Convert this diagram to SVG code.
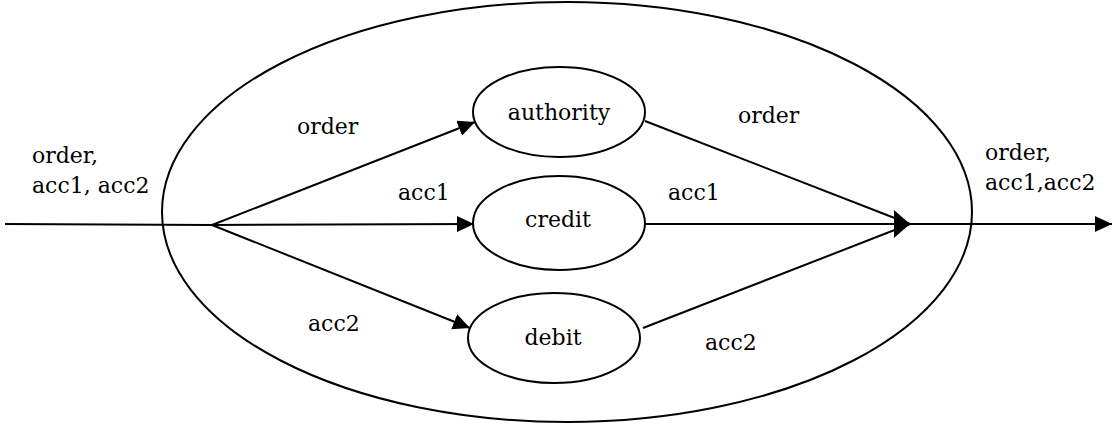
<svg xmlns="http://www.w3.org/2000/svg" width="1114" height="426" viewBox="0 0 1114 426">
  <style>
    .shape { fill: none; stroke: #000; stroke-width: 2; }
    .wire { fill: none; stroke: #000; stroke-width: 2; }
    .lbl { font-family: "DejaVu Serif", "Liberation Serif", serif; font-size: 22px; fill: #000; }
    .mid { text-anchor: middle; }
  </style>
  <defs>
    <marker id="arrow" markerUnits="userSpaceOnUse" markerWidth="18" markerHeight="16" refX="17" refY="8" orient="auto">
      <path d="M0,0 L17,8 L0,16 Z" fill="#000"/>
    </marker>
    <marker id="bigArrow" markerUnits="userSpaceOnUse" markerWidth="18" markerHeight="28" refX="16" refY="14" orient="auto">
      <path d="M0,0 L16,14 L0,28 Z" fill="#000"/>
    </marker>
  </defs>

  <!-- enclosing process boundary -->
  <g id="boundary">
    <ellipse class="shape" cx="567" cy="212" rx="405" ry="210"/>
  </g>

  <g id="authority">
    <ellipse class="shape" cx="559" cy="112" rx="86" ry="45"/>
    <text class="lbl mid" x="559" y="120">authority</text>
  </g>
  <g id="credit">
    <ellipse class="shape" cx="559" cy="223" rx="86" ry="47"/>
    <text class="lbl mid" x="558" y="227">credit</text>
  </g>
  <g id="debit">
    <ellipse class="shape" cx="554" cy="338" rx="86" ry="45"/>
    <text class="lbl mid" x="553" y="345">debit</text>
  </g>

  <g id="connectors">
    <path class="wire" d="M5,224 L212,225"/>
    <path class="wire" d="M212,225 L475,122" marker-end="url(#arrow)"/>
    <path class="wire" d="M212,225 L474,224" marker-end="url(#arrow)"/>
    <path class="wire" d="M212,225 L470,328" marker-end="url(#arrow)"/>
    <path class="wire" d="M645,121 L910,224"/>
    <path class="wire" d="M645,224 L910,224"/>
    <path class="wire" d="M643,328 L910,224"/>
    <path class="wire" d="M880,224 L910,224" marker-end="url(#bigArrow)"/>
    <path class="wire" d="M910,224 L1112,224" marker-end="url(#arrow)"/>
  </g>

  <g id="labels">
    <text class="lbl" x="32" y="163">order,</text>
    <text class="lbl" x="32" y="193">acc1, acc2</text>
    <text class="lbl" x="297" y="134">order</text>
    <text class="lbl" x="398" y="200">acc1</text>
    <text class="lbl" x="308" y="331">acc2</text>
    <text class="lbl" x="738" y="123">order</text>
    <text class="lbl" x="668" y="200">acc1</text>
    <text class="lbl" x="705" y="350">acc2</text>
    <text class="lbl" x="985" y="160">order,</text>
    <text class="lbl" x="985" y="190">acc1,acc2</text>
  </g>
</svg>
